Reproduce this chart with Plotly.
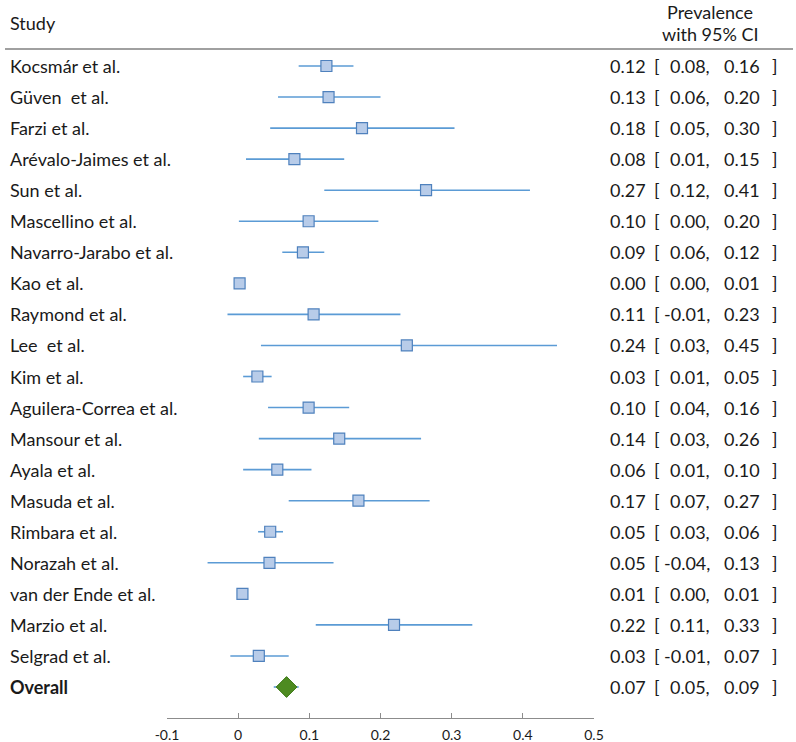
import plotly.graph_objects as go

studies = ["Kocsmár et al.", "Güven  et al.", "Farzi et al.", "Arévalo-Jaimes et al.",
           "Sun et al.", "Mascellino et al.", "Navarro-Jarabo et al.", "Kao et al.",
           "Raymond et al.", "Lee  et al.", "Kim et al.", "Aguilera-Correa et al.",
           "Mansour et al.", "Ayala et al.", "Masuda et al.", "Rimbara et al.",
           "Norazah et al.", "van der Ende et al.", "Marzio et al.", "Selgrad et al."]
estimate = [0.124, 0.127, 0.174, 0.079, 0.264, 0.099, 0.091, 0.002, 0.106, 0.237,
            0.027, 0.099, 0.142, 0.055, 0.169, 0.045, 0.044, 0.006, 0.219, 0.029]
lower = [0.085, 0.056, 0.045, 0.011, 0.121, 0.001, 0.062, 0.0, -0.015, 0.032,
         0.007, 0.042, 0.029, 0.007, 0.071, 0.028, -0.043, 0.001, 0.109, -0.011]
upper = [0.162, 0.200, 0.304, 0.149, 0.410, 0.197, 0.121, 0.006, 0.228, 0.448,
         0.047, 0.156, 0.257, 0.103, 0.269, 0.063, 0.134, 0.010, 0.329, 0.071]

est_lbl = ["0.12", "0.13", "0.18", "0.08", "0.27", "0.10", "0.09", "0.00", "0.11", "0.24",
           "0.03", "0.10", "0.14", "0.06", "0.17", "0.05", "0.05", "0.01", "0.22", "0.03"]
lo_lbl = ["0.08", "0.06", "0.05", "0.01", "0.12", "0.00", "0.06", "0.00", "-0.01", "0.03",
          "0.01", "0.04", "0.03", "0.01", "0.07", "0.03", "-0.04", "0.00", "0.11", "-0.01"]
hi_lbl = ["0.16", "0.20", "0.30", "0.15", "0.41", "0.20", "0.12", "0.01", "0.23", "0.45",
          "0.05", "0.16", "0.26", "0.10", "0.27", "0.06", "0.13", "0.01", "0.33", "0.07"]

overall_name = "Overall"
overall_est, overall_lo, overall_hi = 0.068, 0.050, 0.085
overall_lbl = ("0.07", "0.05", "0.09")

x_ticks = [-0.1, 0, 0.1, 0.2, 0.3, 0.4, 0.5]
x_tick_text = ["-0.1", "0", "0.1", "0.2", "0.3", "0.4", "0.5"]

FONT = "Lato"
FS = 18
TXT = "#1a1a1a"
LINE_BLUE = "#5b9bd5"

n = len(studies)
ys = [-i for i in range(n)]
y_over = -n

fig = go.Figure()
fig.add_trace(go.Scatter(
    x=estimate, y=ys, mode="markers",
    marker=dict(symbol="square", size=11, color="#b8cce9",
                line=dict(color="#4f81bd", width=1.2)),
    error_x=dict(type="data", symmetric=False,
                 array=[u - e for u, e in zip(upper, estimate)],
                 arrayminus=[e - l for e, l in zip(estimate, lower)],
                 width=0, thickness=1.6, color=LINE_BLUE),
    showlegend=False, hoverinfo="skip"))
fig.add_trace(go.Scatter(
    x=[overall_est], y=[y_over], mode="markers",
    marker=dict(symbol="diamond", size=16, color="#4e8b21",
                line=dict(color="#3f7a1a", width=1)),
    error_x=dict(type="data", symmetric=False,
                 array=[overall_hi - overall_est], arrayminus=[overall_est - overall_lo],
                 width=0, thickness=1.6, color=LINE_BLUE),
    showlegend=False, hoverinfo="skip"))

L, R, T, B = 167, 202, 0, 24
W, H = 796, 742
pw = W - L - R
row_h = 31.05


def px2paper(px):
    return (px - L) / pw


def py2y(py):
    return -(py - 66) / row_h


def txt(xpx, y, s, anchor, bold=False):
    return dict(x=px2paper(xpx), y=y, xref="paper", yref="y",
                text=f"<b>{s}</b>" if bold else s,
                showarrow=False, xanchor=anchor, yanchor="middle",
                font=dict(family=FONT, size=FS, color=TXT))


ann = []
rows = list(zip(studies, est_lbl, lo_lbl, hi_lbl, ys))
rows.append((overall_name, overall_lbl[0], overall_lbl[1], overall_lbl[2], y_over))
for k, (name, e, lo, hi, y) in enumerate(rows):
    ann.append(txt(8, y, name, "left", bold=(k == n)))
    ann.append(txt(648, y, e, "right"))
    ann.append(txt(652, y, "[", "left"))
    ann.append(txt(712, y, lo + ",", "right"))
    ann.append(txt(762, y, hi, "right"))
    ann.append(txt(770, y, "]", "left"))

ann.append(txt(8, py2y(23), "Study", "left"))
ann.append(txt(710, py2y(12), "Prevalence", "center"))
ann.append(txt(710, py2y(34), "with 95% CI", "center"))

fig.update_layout(
    width=W, height=H,
    margin=dict(l=L, r=R, t=T, b=B, pad=0, autoexpand=False),
    paper_bgcolor="white", plot_bgcolor="white",
    annotations=ann,
    shapes=[dict(type="line", xref="paper", yref="y", x0=px2paper(5), x1=px2paper(793),
                 y0=py2y(49), y1=py2y(49), line=dict(color="#808080", width=1.5))],
    xaxis=dict(range=[-0.1, 0.5], tickvals=x_ticks, ticktext=x_tick_text,
               showgrid=False, zeroline=False, showline=True, linecolor="#8c8c8c",
               linewidth=1.3, ticks="inside", ticklen=5, tickcolor="#8c8c8c",
               ticklabelstandoff=4, automargin=False,
               tickfont=dict(family=FONT, size=14, color=TXT)),
    yaxis=dict(range=[py2y(718), py2y(0)], visible=False, showgrid=False, zeroline=False,
               automargin=False),
)

fig.write_html("out.html", config={"displayModeBar": False},
               post_script="document.body.style.margin='0';document.body.style.overflow='hidden';")
